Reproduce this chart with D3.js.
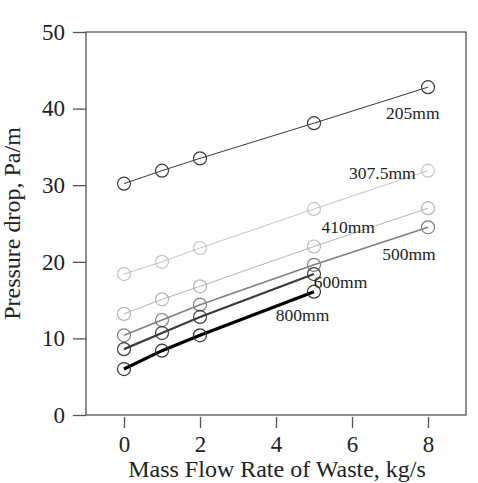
<!DOCTYPE html>
<html>
<head>
<meta charset="utf-8">
<script src="https://cdn.jsdelivr.net/npm/d3@7"></script>
<style>
  body { margin: 0; background: #fff; }
  svg { display: block; font-family: "Liberation Serif", "Times New Roman", serif; }
</style>
</head>
<body>
<svg id="chart" width="478" height="483"></svg>
<script>
const flow = [0, 1, 2, 5, 8];
const p205 = [30.2, 31.9, 33.5, 38.1, 42.8];
const p307 = [18.4, 20.0, 21.8, 26.9, 31.9];
const p410 = [13.2, 15.1, 16.8, 22.0, 27.0];
const p500 = [10.4, 12.4, 14.4, 19.6, 24.5];
const p600 = [8.6, 10.7, 12.8, 18.4];
const p800 = [6.0, 8.4, 10.4, 16.1];
const xTicks = [0, 2, 4, 6, 8];
const yTicks = [0, 10, 20, 30, 40, 50];

// label anchor positions in data units
const series = [
  { name: "205mm", values: p205, color: "#3a3a3a", width: 1, lx: 7.6, ly: 38.6 },
  { name: "307.5mm", values: p307, color: "#c4c4c4", width: 1, lx: 6.8, ly: 30.8 },
  { name: "410mm", values: p410, color: "#b4b4b4", width: 1, lx: 5.9, ly: 23.8 },
  { name: "500mm", values: p500, color: "#808080", width: 1.6, lx: 7.5, ly: 20.3 },
  { name: "600mm", values: p600, color: "#3c3c3c", width: 2.2, lx: 5.7, ly: 16.6 },
  { name: "800mm", values: p800, color: "#000", width: 3.2, lx: 4.7, ly: 12.3 }
];

const margin = { top: 32, right: 12, bottom: 68, left: 86 };
const width = 478, height = 483;

const svg = d3.select("#chart");

const x = d3.scaleLinear().domain([-1, 9]).range([margin.left, width - margin.right]);
const y = d3.scaleLinear().domain([0, 50]).range([height - margin.bottom, margin.top]);

// frame
svg.append("rect")
  .attr("x", x(-1)).attr("y", y(50))
  .attr("width", x(9) - x(-1)).attr("height", y(0) - y(50))
  .attr("fill", "none").attr("stroke", "#555").attr("stroke-width", 1.3);

const yAxis = svg.append("g")
  .attr("transform", `translate(${x(-1)},0)`)
  .call(d3.axisLeft(y).tickValues(yTicks).tickSize(13).tickSizeOuter(0).tickPadding(8));
yAxis.select(".domain").remove();
yAxis.selectAll("line").attr("stroke", "#555").attr("stroke-width", 1.3);
yAxis.selectAll("text").attr("font-size", 23).attr("fill", "#222").attr("font-family", "Liberation Serif");

const xAxis = svg.append("g")
  .attr("transform", `translate(0,${y(0) + 2})`)
  .call(d3.axisBottom(x).tickValues(xTicks).tickSize(11).tickPadding(8));
xAxis.select(".domain").remove();
xAxis.selectAll("line").attr("stroke", "#555").attr("stroke-width", 1.3);
xAxis.selectAll("text").attr("font-size", 23).attr("fill", "#222").attr("font-family", "Liberation Serif");

const line = d3.line().x((d, i) => x(flow[i])).y(d => y(d));

series.forEach(s => {
  svg.append("path")
    .datum(s.values)
    .attr("d", line)
    .attr("fill", "none")
    .attr("stroke", s.color)
    .attr("stroke-width", s.width);

  svg.append("g").selectAll("circle")
    .data(s.values)
    .join("circle")
    .attr("cx", (d, i) => x(flow[i]))
    .attr("cy", d => y(d))
    .attr("r", 6.5)
    .attr("fill", "none")
    .attr("stroke", s.color === "#000" ? "#333" : s.color)
    .attr("stroke-width", 1.2);

  svg.append("text")
    .attr("x", x(s.lx)).attr("y", y(s.ly))
    .attr("text-anchor", "middle")
    .attr("font-size", 17.5)
    .attr("fill", "#222")
    .text(s.name);
});

svg.append("text")
  .attr("x", 277)
  .attr("y", 477)
  .attr("text-anchor", "middle")
  .attr("font-size", 24)
  .attr("fill", "#222")
  .text("Mass Flow Rate of Waste, kg/s");

svg.append("text")
  .attr("transform", `translate(20,${(y(0) + y(50)) / 2}) rotate(-90)`)
  .attr("text-anchor", "middle")
  .attr("font-size", 24)
  .attr("fill", "#222")
  .text("Pressure drop, Pa/m");
</script>
</body>
</html>
